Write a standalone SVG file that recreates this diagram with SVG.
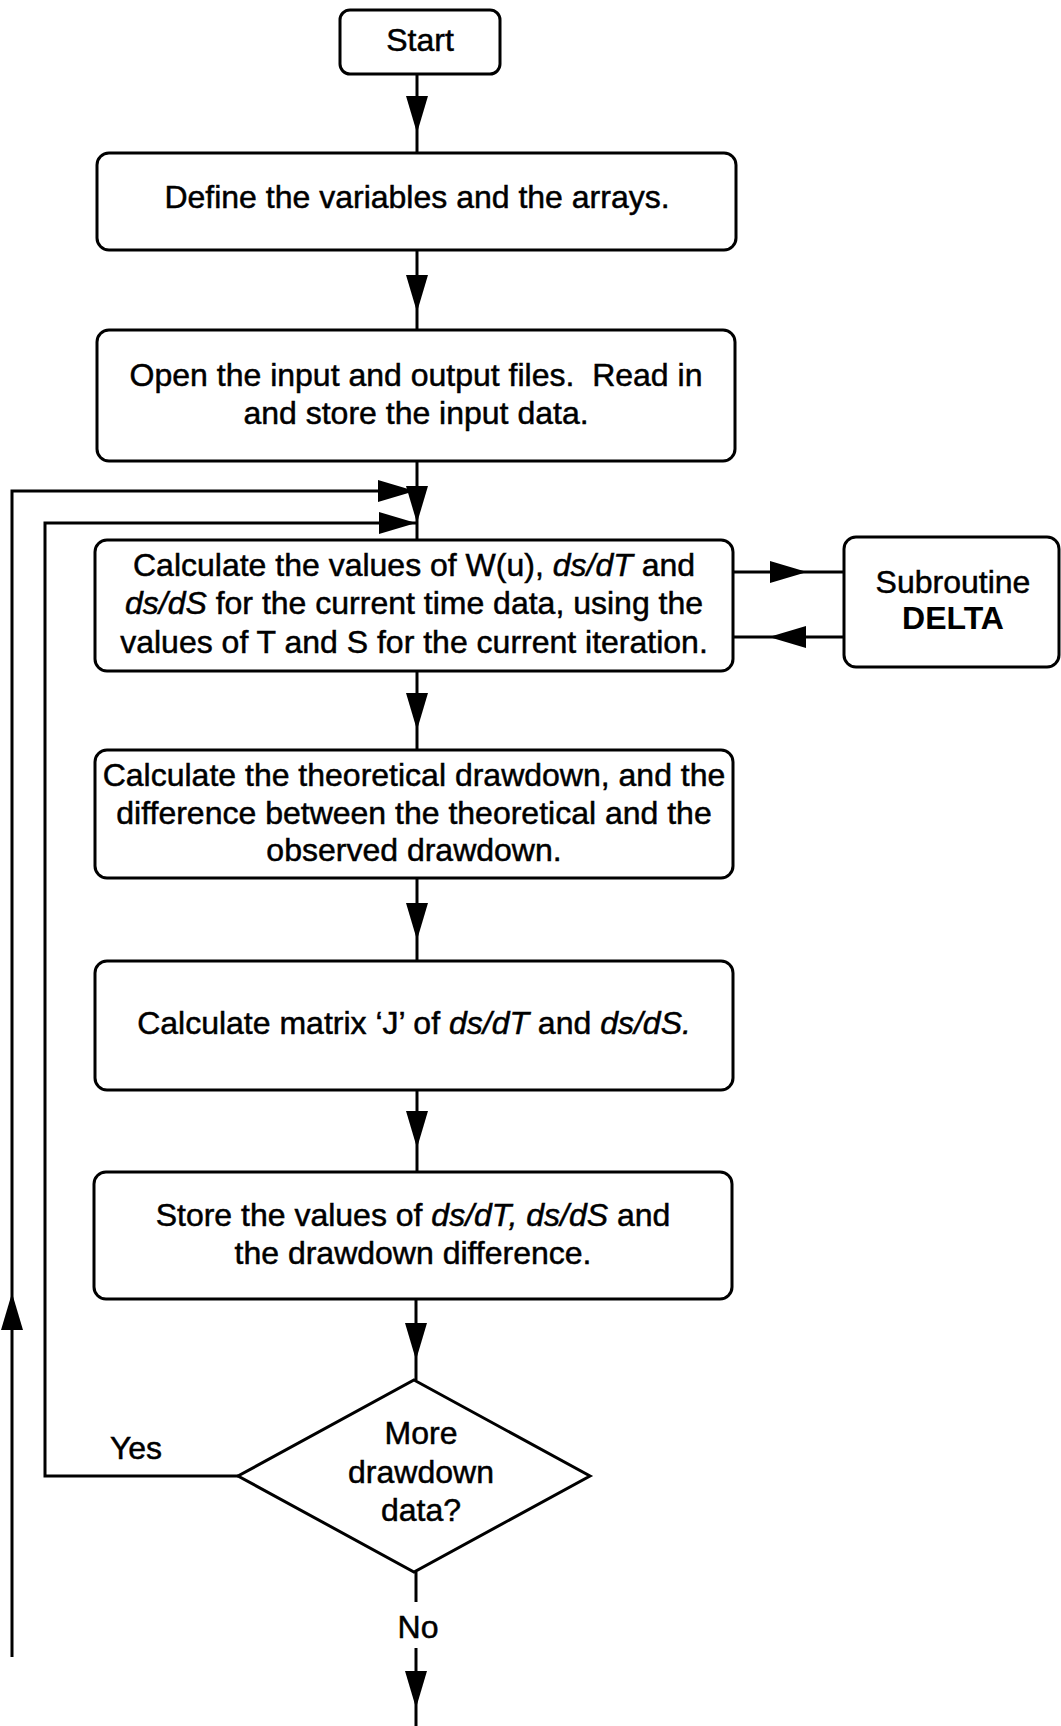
<svg xmlns="http://www.w3.org/2000/svg" xmlns:xlink="http://www.w3.org/1999/xlink" width="1061" height="1726" viewBox="0 0 1061 1726">
  <style>
    .box { fill: #ffffff; stroke: #000000; stroke-width: 3; }
    .wire { fill: none; stroke: #000000; stroke-width: 3; }
    .lbl { font-family: "Liberation Sans", Arial, Helvetica, sans-serif; font-size: 32px; fill: #000000; stroke: #000000; stroke-width: 0.5; text-anchor: middle; }
    .it { font-style: italic; }
    .bd { font-weight: bold; stroke-width: 0; }
  </style>
  <defs>
    <!-- filled arrowhead, tip at origin, pointing down -->
    <path id="ah" d="M0,0 L-11,-37 L11,-37 Z" fill="#000000"/>
  </defs>

  <rect width="1061" height="1726" fill="#ffffff"/>

  <g id="connectors">
    <!-- main vertical flow -->
    <line class="wire" x1="417" y1="74" x2="417" y2="153"/>
    <use xlink:href="#ah" href="#ah" transform="translate(417,133)"/>
    <line class="wire" x1="417" y1="250" x2="417" y2="330"/>
    <use xlink:href="#ah" href="#ah" transform="translate(417,312)"/>
    <line class="wire" x1="417" y1="461" x2="417" y2="540"/>
    <use xlink:href="#ah" href="#ah" transform="translate(417,523)"/>
    <line class="wire" x1="417" y1="671" x2="417" y2="750"/>
    <use xlink:href="#ah" href="#ah" transform="translate(417,730)"/>
    <line class="wire" x1="417" y1="878" x2="417" y2="961"/>
    <use xlink:href="#ah" href="#ah" transform="translate(417,940)"/>
    <line class="wire" x1="417" y1="1090" x2="417" y2="1172"/>
    <use xlink:href="#ah" href="#ah" transform="translate(417,1148)"/>
    <line class="wire" x1="416" y1="1299" x2="416" y2="1380"/>
    <use xlink:href="#ah" href="#ah" transform="translate(416,1360)"/>
    <!-- "No" exit -->
    <line class="wire" x1="416" y1="1572" x2="416" y2="1602"/>
    <line class="wire" x1="416" y1="1648" x2="416" y2="1726"/>
    <use xlink:href="#ah" href="#ah" transform="translate(416,1708)"/>

    <!-- subroutine call and return -->
    <line class="wire" x1="733" y1="572" x2="844" y2="572"/>
    <use xlink:href="#ah" href="#ah" transform="translate(807,572) rotate(-90)"/>
    <line class="wire" x1="844" y1="637" x2="733" y2="637"/>
    <use xlink:href="#ah" href="#ah" transform="translate(769,637) rotate(90)"/>

    <!-- "Yes" loop back to the calculation -->
    <polyline class="wire" points="238,1476 45,1476 45,523 416,523"/>
    <use xlink:href="#ah" href="#ah" transform="translate(416,523) rotate(-90)"/>

    <!-- outer iteration loop -->
    <polyline class="wire" points="12,1657 12,491 415,491"/>
    <use xlink:href="#ah" href="#ah" transform="translate(415,491) rotate(-90)"/>
    <use xlink:href="#ah" href="#ah" transform="translate(12,1293) rotate(180)"/>
  </g>

  <g id="start">
    <rect class="box" x="340" y="10" width="160" height="64" rx="10"/>
    <text class="lbl" x="420" y="51">Start</text>
  </g>

  <g id="define">
    <rect class="box" x="97" y="153" width="639" height="97" rx="12"/>
    <text class="lbl" x="417" y="208">Define the variables and the arrays.</text>
  </g>

  <g id="open-files">
    <rect class="box" x="97" y="330" width="638" height="131" rx="12"/>
    <text class="lbl" x="416" y="386" xml:space="preserve">Open the input and output files.  Read in</text>
    <text class="lbl" x="416" y="424">and store the input data.</text>
  </g>

  <g id="calc-values">
    <rect class="box" x="95" y="540" width="638" height="131" rx="12"/>
    <text class="lbl" x="414" y="576">Calculate the values of W(u), <tspan class="it">ds/dT</tspan> and</text>
    <text class="lbl" x="414" y="614"><tspan class="it">ds/dS</tspan> for the current time data, using the</text>
    <text class="lbl" x="414" y="653">values of T and S for the current iteration.</text>
  </g>

  <g id="delta">
    <rect class="box" x="844" y="537" width="215" height="130" rx="12"/>
    <text class="lbl" x="953" y="593">Subroutine</text>
    <text class="lbl bd" x="953" y="629">DELTA</text>
  </g>

  <g id="theoretical">
    <rect class="box" x="95" y="750" width="638" height="128" rx="12"/>
    <text class="lbl" x="414" y="786">Calculate the theoretical drawdown, and the</text>
    <text class="lbl" x="414" y="824">difference between the theoretical and the</text>
    <text class="lbl" x="414" y="861">observed drawdown.</text>
  </g>

  <g id="matrix">
    <rect class="box" x="95" y="961" width="638" height="129" rx="12"/>
    <text class="lbl" x="414" y="1034">Calculate matrix ‘J’ of <tspan class="it">ds/dT</tspan> and <tspan class="it">ds/dS.</tspan></text>
  </g>

  <g id="store">
    <rect class="box" x="94" y="1172" width="638" height="127" rx="12"/>
    <text class="lbl" x="413" y="1226">Store the values of <tspan class="it">ds/dT, ds/dS</tspan> and</text>
    <text class="lbl" x="413" y="1264">the drawdown difference.</text>
  </g>

  <g id="decision">
    <polygon class="box" points="414,1380 590,1476 414,1572 238,1476"/>
    <text class="lbl" x="421" y="1444">More</text>
    <text class="lbl" x="421" y="1483">drawdown</text>
    <text class="lbl" x="421" y="1521">data?</text>
  </g>

  <g id="branch-labels">
    <text class="lbl" x="136" y="1459">Yes</text>
    <text class="lbl" x="418" y="1638">No</text>
  </g>
</svg>
